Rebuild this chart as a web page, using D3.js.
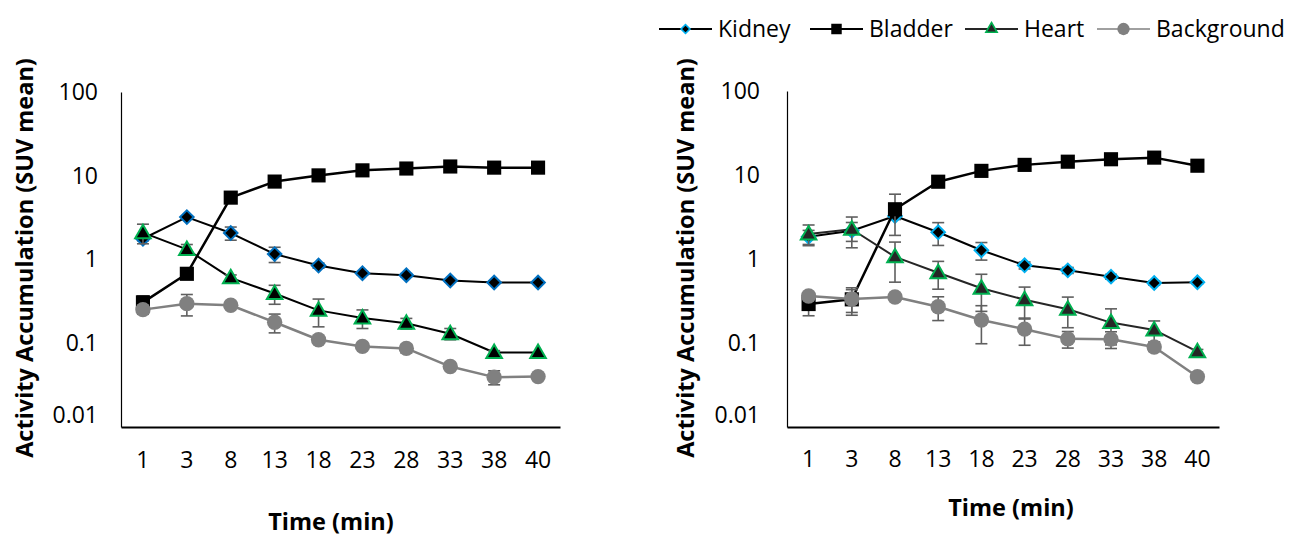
<!DOCTYPE html>
<html>
<head>
<meta charset="utf-8">
<script src="https://cdn.jsdelivr.net/npm/d3@7"></script>
<style>
  body { margin: 0; background: #fff; }
  svg text { font-family: 'Open Sans', sans-serif; fill: #000; }
</style>
</head>
<body>
<div id="chart"></div>
<script>
const times = ['1', '3', '8', '13', '18', '23', '28', '33', '38', '40'];
const yTicks = [0.01, 0.1, 1, 10, 100];
const seriesNames = ['Kidney', 'Bladder', 'Heart', 'Background'];

// left panel
const kidneyA = [1.77, 3.21, 2.07, 1.16, 0.847, 0.686, 0.649, 0.561, 0.531, 0.531];
const kidneyErrA = [0.1, 0.1, 0.37, 0.24, 0.06, 0.03, 0.03, 0.02, 0.02, 0];
const bladderA = [0.308, 0.675, 5.48, 8.52, 10.1, 11.6, 12.2, 12.9, 12.5, 12.5];
const bladderErrA = [0.06, 0, 0, 0, 0, 0, 0, 0, 0, 0];
const heartA = [2.09, 1.32, 0.604, 0.392, 0.247, 0.2, 0.173, 0.13, 0.0776, 0.0776];
const heartErrA = [0.55, 0.19, 0.05, 0.1, 0.09, 0.05, 0.025, 0.02, 0.004, 0];
const backgroundA = [0.252, 0.297, 0.284, 0.178, 0.11, 0.0916, 0.0867, 0.0527, 0.0394, 0.04];
const backgroundErrA = [0.03, 0.085, 0.02, 0.045, 0.01, 0.005, 0.01, 0.003, 0.0075, 0];

// right panel
const kidneyB = [1.84, 2.17, 3.25, 2.08, 1.27, 0.841, 0.733, 0.616, 0.518, 0.528];
const kidneyErrB = [0.35, 0.55, 0.3, 0.63, 0.3, 0.08, 0.06, 0.04, 0.03, 0.02];
const bladderB = [0.291, 0.331, 3.91, 8.32, 11.2, 13.2, 14.4, 15.4, 16.1, 12.9];
const bladderErrB = [0.08, 0.1, 2.0, 0, 0, 0, 0, 0, 0, 0];
const heartB = [1.99, 2.26, 1.06, 0.687, 0.448, 0.328, 0.252, 0.175, 0.143, 0.0788];
const heartErrB = [0.55, 0.9, 0.53, 0.25, 0.21, 0.135, 0.1, 0.08, 0.04, 0.005];
const backgroundB = [0.363, 0.334, 0.353, 0.27, 0.188, 0.146, 0.112, 0.111, 0.0896, 0.0397];
const backgroundErrB = [0.03, 0.12, 0.03, 0.085, 0.09, 0.052, 0.025, 0.025, 0.01, 0.002];

const width = 1291;
const height = 537;

const svg = d3.select('#chart')
  .append('svg')
  .attr('width', width)
  .attr('height', height)

// marker shapes; diamond is a square turned 45deg
const shapes = {
  Kidney: { type: d3.symbolSquare, size: 92, rotate: 45 },
  Bladder: { type: d3.symbolSquare, size: 200, rotate: 0 },
  Heart: { type: d3.symbolTriangle, size: 105, rotate: 0 },
  Background: { type: d3.symbolCircle, size: 185, rotate: 0 }
}

function drawPanel(p) {
  const x = d3.scaleBand()
    .domain(times)
    .range([p.left, p.right])

  const y = d3.scaleLog()
    .domain([0.01, 100])
    .range([p.bottom, p.top])

  const xAxis = d3.axisBottom(x).tickSize(0).tickPadding(p.xPad)
  const yAxis = d3.axisLeft(y).tickValues(yTicks).tickSize(0).tickPadding(p.yPad)
    .tickFormat(d3.format('~g'))

  const gx = svg.append('g')
    .attr('transform', `translate(0, ${p.bottom})`)
    .call(xAxis)
  gx.select('.domain').attr('stroke', '#000').attr('stroke-width', 1.8)
  gx.selectAll('text').style('font-size', '23px').attr('fill', '#000')

  const gy = svg.append('g')
    .attr('transform', `translate(${p.left}, 0)`)
    .call(yAxis)
  gy.select('.domain').attr('stroke', '#000').attr('stroke-width', 1.2)
  gy.selectAll('text').style('font-size', '23px').attr('fill', '#000')
  // the lowest label sits a little above the corner, as in the source
  gy.selectAll('.tick').filter(d => d === 0.01).select('text').attr('dy', '-0.2em')

  const cx = (i) => x(times[i]) + x.bandwidth() / 2
  const line = d3.line()
    .x((d, i) => cx(i))
    .y(d => y(d))

  p.series.forEach(s => {
    const g = svg.append('g')

    g.append('path')
      .datum(s.values)
      .attr('d', line)
      .attr('fill', 'none')
      .attr('stroke', s.line)
      .attr('stroke-width', s.lineWidth)
      .attr('stroke-linejoin', 'round')

    const bars = g.selectAll('.err')
      .data(s.values.map((v, i) => ({ v, e: s.err[i], i })).filter(d => d.e > 0))
      .enter()
      .append('g')
      .attr('stroke', '#5f5f5f')
      .attr('stroke-width', 1.6)

    bars.append('line')
      .attr('x1', d => cx(d.i)).attr('x2', d => cx(d.i))
      .attr('y1', d => y(d.v + d.e))
      .attr('y2', d => y(Math.max(d.v - d.e, 0.01)))
    bars.append('line')
      .attr('x1', d => cx(d.i) - 6).attr('x2', d => cx(d.i) + 6)
      .attr('y1', d => y(d.v + d.e)).attr('y2', d => y(d.v + d.e))
    bars.append('line')
      .attr('x1', d => cx(d.i) - 6).attr('x2', d => cx(d.i) + 6)
      .attr('y1', d => y(Math.max(d.v - d.e, 0.01))).attr('y2', d => y(Math.max(d.v - d.e, 0.01)))

    const sh = shapes[s.name]
    g.selectAll('.mark')
      .data(s.values)
      .enter()
      .append('path')
      .attr('d', d3.symbol().type(sh.type).size(sh.size))
      .attr('transform', (d, i) => `translate(${cx(i)}, ${y(d) + (s.name === 'Heart' ? 1 : 0)}) rotate(${sh.rotate})`)
      .attr('fill', s.fill)
      .attr('stroke', s.stroke || 'none')
      .attr('stroke-width', 2)
  })

  svg.append('text')
    .attr('x', p.xTitleX)
    .attr('y', p.xTitleY)
    .attr('text-anchor', 'middle')
    .style('font-size', '23.5px')
    .style('font-weight', 'bold')
    .text('Time (min)')

  svg.append('text')
    .attr('transform', `translate(${p.yTitleX}, ${p.yTitleY}) rotate(-90)`)
    .attr('text-anchor', 'middle')
    .style('font-size', '23.5px')
    .style('font-weight', 'bold')
    .text('Activity Accumulation (SUV mean)')
}

drawPanel({
  left: 121, right: 560, top: 92, bottom: 427, xPad: 25, yPad: 23,
  xTitleX: 331, xTitleY: 530, yTitleX: 33, yTitleY: 258,
  series: [
    { name: 'Kidney', values: kidneyA, err: kidneyErrA, line: '#000', lineWidth: 2, fill: '#000', stroke: '#0070C0' },
    { name: 'Bladder', values: bladderA, err: bladderErrA, line: '#000', lineWidth: 2.5, fill: '#000' },
    { name: 'Heart', values: heartA, err: heartErrA, line: '#000', lineWidth: 2, fill: '#000', stroke: '#00B050' },
    { name: 'Background', values: backgroundA, err: backgroundErrA, line: '#808080', lineWidth: 2.5, fill: '#808080' }
  ]
})

drawPanel({
  left: 787, right: 1219, top: 91, bottom: 427, xPad: 24, yPad: 27,
  xTitleX: 1011, xTitleY: 516, yTitleX: 694, yTitleY: 258,
  series: [
    { name: 'Kidney', values: kidneyB, err: kidneyErrB, line: '#000', lineWidth: 2, fill: '#000', stroke: '#00B0F0' },
    { name: 'Bladder', values: bladderB, err: bladderErrB, line: '#000', lineWidth: 2.5, fill: '#000' },
    { name: 'Heart', values: heartB, err: heartErrB, line: '#262626', lineWidth: 2, fill: '#262626', stroke: '#00B050' },
    { name: 'Background', values: backgroundB, err: backgroundErrB, line: '#808080', lineWidth: 2.5, fill: '#808080' }
  ]
})

// legend
const legendStyle = {
  Kidney: { line: '#000', fill: '#000', stroke: '#00B0F0', size: 40, x: 659 },
  Bladder: { line: '#000', fill: '#000', stroke: 'none', size: 110, x: 810 },
  Heart: { line: '#262626', fill: '#262626', stroke: '#00B050', size: 55, x: 965 },
  Background: { line: '#a0a0a0', fill: '#808080', stroke: 'none', size: 120, x: 1097 }
}

const legend = svg.append('g')
seriesNames.forEach(name => {
  const st = legendStyle[name]
  const sh = shapes[name]
  legend.append('line')
    .attr('x1', st.x).attr('x2', st.x + 53)
    .attr('y1', 29).attr('y2', 29)
    .attr('stroke', st.line)
    .attr('stroke-width', 2.2)
  legend.append('path')
    .attr('d', d3.symbol().type(sh.type).size(st.size))
    .attr('transform', `translate(${st.x + 26.5}, 29) rotate(${sh.rotate})`)
    .attr('fill', st.fill)
    .attr('stroke', st.stroke)
    .attr('stroke-width', 1.6)
  legend.append('text')
    .attr('x', st.x + 59)
    .attr('y', 37)
    .style('font-size', '23px')
    .text(name)
})
</script>
</body>
</html>
